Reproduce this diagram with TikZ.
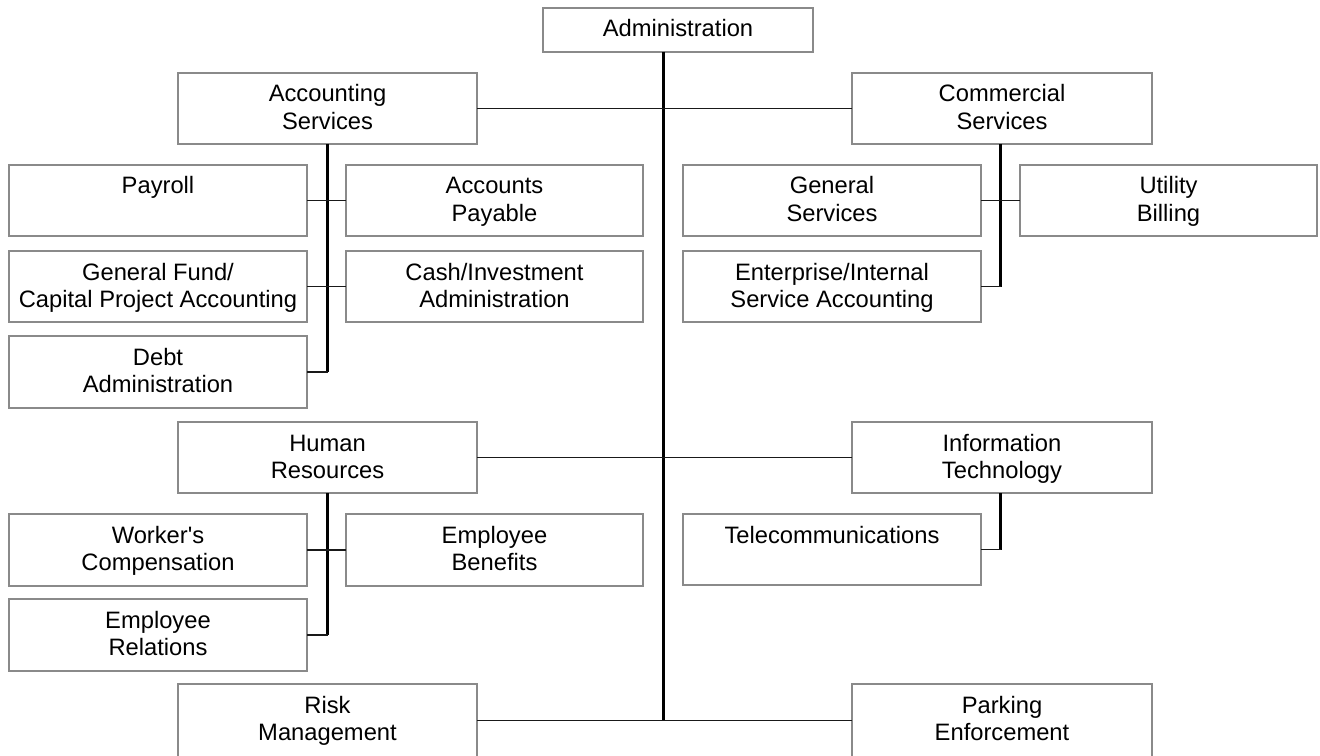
\documentclass[tikz,border=0pt]{standalone}
\usepackage{fontspec}
\setmainfont{Liberation Sans}[Ligatures=TeXOff]
\usetikzlibrary{fit}
\definecolor{boxgray}{HTML}{8A8A8A}
\newcommand\orgbox[6]{%
  \coordinate (#1-nw) at (#2,#3);
  \coordinate (#1-se) at (#4,#5);
  \node[box, fit=(#1-nw)(#1-se)] (#1) {};
  \node[lbl] (#1-t) at ([yshift=-21.75pt]#1.north) {\begin{tabular}[t]{@{}c@{}}#6\end{tabular}};
}
\begin{document}
\begin{tikzpicture}[x=0.75pt,y=-0.75pt,
  box/.style={draw=boxgray, line width=1.25pt, inner sep=0pt, outer sep=0pt},
  lbl/.style={anchor=base, inner sep=0pt, text=black,
    font=\fontsize{17.8}{20.6}\selectfont},
  trunk/.style={line width=2pt, black},
  branch/.style={line width=1.3pt, black!90}]
\useasboundingbox[fill=white] (0,0) rectangle (1320,756);

\orgbox{adm}{543}{8}{813}{52}{Administration}
\orgbox{acc}{178}{73}{477}{144}{Accounting\\Services}
\orgbox{com}{852}{73}{1152}{144}{Commercial\\Services}
\orgbox{pay}{9}{165}{307}{236}{Payroll}
\orgbox{ap}{346}{165}{643}{236}{Accounts\\Payable}
\orgbox{gf}{9}{251}{307}{322}{General Fund/\\Capital Project Accounting}
\orgbox{ci}{346}{251}{643}{322}{Cash/Investment\\Administration}
\orgbox{debt}{9}{336}{307}{408}{Debt\\Administration}
\orgbox{gs}{683}{165}{981}{236}{General\\Services}
\orgbox{ub}{1020}{165}{1317}{236}{Utility\\Billing}
\orgbox{ent}{683}{251}{981}{322}{Enterprise/Internal\\Service Accounting}
\orgbox{hr}{178}{422}{477}{493}{Human\\Resources}
\orgbox{it}{852}{422}{1152}{493}{Information\\Technology}
\orgbox{wc}{9}{514}{307}{586}{Worker's\\Compensation}
\orgbox{eb}{346}{514}{643}{586}{Employee\\Benefits}
\orgbox{er}{9}{599}{307}{671}{Employee\\Relations}
\orgbox{tel}{683}{514}{981}{585}{Telecommunications}
\orgbox{risk}{178}{684}{477}{757}{Risk\\Management}
\orgbox{park}{852}{684}{1152}{757}{Parking\\Enforcement}

% spine
\coordinate (spine) at (663.5,52);
\draw[trunk] (spine) -- (spine |- risk.east);
\draw[branch] (acc.east) -- (com.west);
\draw[branch] (hr.east) -- (it.west);
\draw[branch] (risk.east) -- (park.west);

% accounting services
\coordinate (accx) at (327.5,144);
\draw[trunk] (accx) -- (accx |- debt.east);
\draw[branch] (pay.east) -- (ap.west);
\draw[branch] (gf.east) -- (ci.west);
\draw[branch] (debt.east) -- (accx |- debt.east);

% commercial services
\coordinate (comx) at (1000.5,144);
\draw[trunk] (comx) -- (comx |- ent.east);
\draw[branch] (gs.east) -- (ub.west);
\draw[branch] (ent.east) -- (comx |- ent.east);

% human resources
\coordinate (hrx) at (327.5,493);
\draw[trunk] (hrx) -- (hrx |- er.east);
\draw[branch] (wc.east) -- (eb.west);
\draw[branch] (er.east) -- (hrx |- er.east);

% information technology
\coordinate (itx) at (1000.5,493);
\draw[trunk] (itx) -- (itx |- tel.east);
\draw[branch] (tel.east) -- (itx |- tel.east);
\end{tikzpicture}
\end{document}
